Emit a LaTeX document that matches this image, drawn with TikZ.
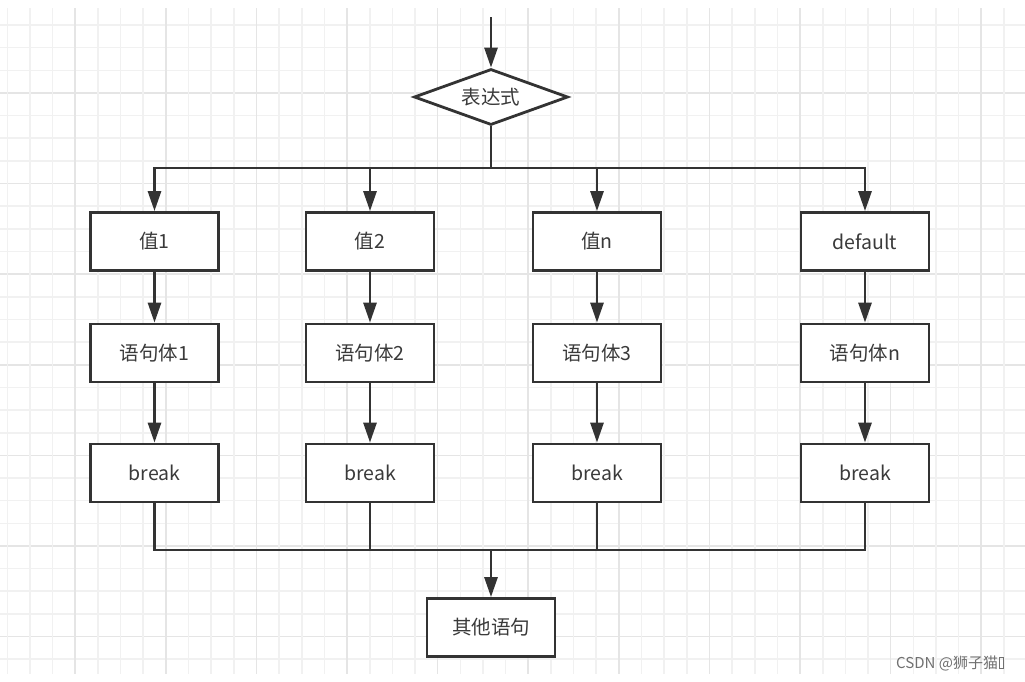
\documentclass[tikz,border=0pt]{standalone}
\usepackage{fontspec}
\setmainfont{Noto Sans CJK SC}
\usetikzlibrary{arrows.meta,shapes.geometric}
\definecolor{ink}{HTML}{333333}
\definecolor{txt}{HTML}{3A3A3A}
\definecolor{gridminor}{HTML}{F1F1F1}
\definecolor{gridmajor}{HTML}{E5E5E5}
\definecolor{wm}{HTML}{707070}
\begin{document}
\begin{tikzpicture}[x=1pt,y=-1pt,
  flowline/.style={draw=ink,line width=2.8pt},
  arr/.style={flowline,-{Triangle[width=13pt,length=20pt]}},
  stepbox/.style={draw=ink,line width=2.8pt,fill=white,minimum width=128pt,minimum height=58pt,inner sep=0pt,text=txt,font=\fontsize{19.5}{22}\selectfont},
  decision/.style={diamond,draw=ink,line width=2.8pt,fill=white,minimum width=154pt,minimum height=56pt,aspect=2.75,inner sep=0pt,text=txt,font=\fontsize{19.5}{22}\selectfont}]
\useasboundingbox (0,0) rectangle (1025,681);
\fill[white] (0,0) rectangle (1025,681);
% grid
\foreach \i in {0,...,28}{
  \pgfmathsetmacro\yy{25+22.65*\i}
  \pgfmathtruncatemacro\mm{mod(\i,4)}
  \ifnum\mm=3
    \draw[gridmajor,line width=1.6pt] (0,\yy) -- (1025,\yy);
  \else
    \draw[gridminor,line width=1.6pt] (0,\yy) -- (1025,\yy);
  \fi
}
\foreach \k in {0,...,44}{
  \pgfmathsetmacro\xx{7.3+22.65*\k}
  \pgfmathtruncatemacro\mm{mod(\k,4)}
  \ifnum\mm=3
    \draw[gridmajor,line width=1.6pt] (\xx,8) -- (\xx,674);
  \else
    \draw[gridminor,line width=1.6pt] (\xx,8) -- (\xx,674);
  \fi
}
% nodes
\node[decision] (d) at (491,97) {表达式};
\node[stepbox] (v1) at (154.5,241.5) {值1};
\node[stepbox] (v2) at (370,241.5) {值2};
\node[stepbox] (v3) at (597,241.5) {值n};
\node[stepbox] (v4) at (865,241.5) {default};
\node[stepbox] (s1) at (154.5,353) {语句体1};
\node[stepbox] (s2) at (370,353) {语句体2};
\node[stepbox] (s3) at (597,353) {语句体3};
\node[stepbox] (s4) at (865,353) {语句体n};
\node[stepbox] (b1) at (154.5,473) {break};
\node[stepbox] (b2) at (370,473) {break};
\node[stepbox] (b3) at (597,473) {break};
\node[stepbox] (b4) at (865,473) {break};
\node[stepbox] (e) at (491,627.5) {其他语句};
\coordinate (top) at (491,17);
\coordinate (bt) at (491,168);
\coordinate (bb) at (491,550);
% connectors
\draw[arr] (top) -- (d.north);
\draw[flowline] (d.south) -- (bt);
\foreach \c in {1,2,3,4}{
  \draw[arr] (bt) -| (v\c.north);
  \draw[arr] (v\c.south) -- (s\c.north);
  \draw[arr] (s\c.south) -- (b\c.north);
  \draw[flowline] (b\c.south) |- (bb);
}
\draw[arr] (bb) -- (e.north);
% watermark
\node[anchor=west,text=wm,font=\fontsize{15}{17}\selectfont,inner sep=0pt] (wmk) at (896,663) {CSDN @狮子猫\kern1pt{\setlength{\fboxsep}{0pt}\setlength{\fboxrule}{0.9pt}\fbox{\rule{0pt}{10pt}\hspace{3.5pt}}}};
\end{tikzpicture}
\end{document}
